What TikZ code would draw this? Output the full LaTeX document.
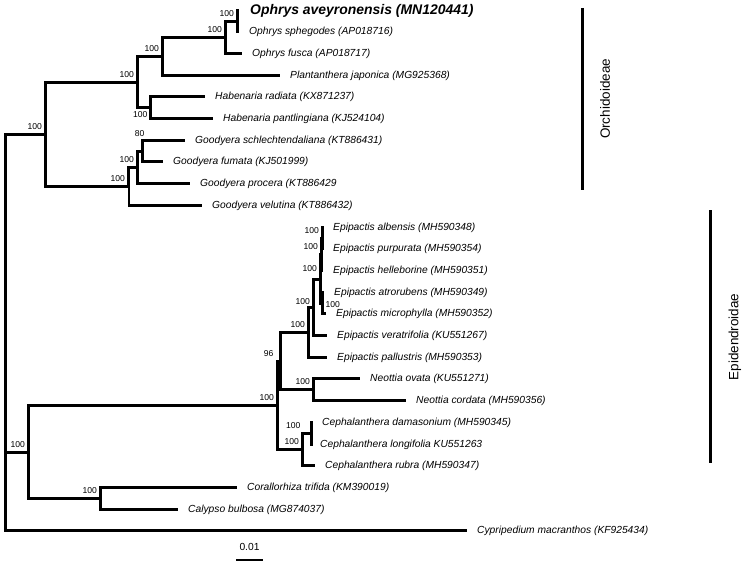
\documentclass[tikz,border=0pt]{standalone}
\usepackage{fontspec}
\setmainfont{Liberation Sans}
\usetikzlibrary{positioning}

\begin{document}
\begin{tikzpicture}[x=1bp,y=-1bp,node distance=10bp]
\tikzstyle{branchline}=[line width=3bp]
\tikzstyle{taxon}=[font=\fontsize{10.3}{12}\selectfont\itshape,inner sep=0pt]
\tikzstyle{focal}=[font=\fontsize{14}{16}\selectfont\bfseries\itshape,inner sep=0pt]
\tikzstyle{boot}=[font=\fontsize{8.6}{9}\selectfont,inner sep=0pt]
\tikzstyle{cladename}=[font=\fontsize{13.5}{15}\selectfont,rotate=90,inner sep=0pt]
\useasboundingbox (0,0) rectangle (745,563);

% branch tips
\coordinate (tAve) at (239,10.5);
\coordinate (tSph) at (239,31.5);
\coordinate (tFus) at (242,53.5);
\coordinate (tPla) at (280,75.5);
\coordinate (tHra) at (205,96.5);
\coordinate (tHpa) at (213,118.5);
\coordinate (tGsc) at (185,140.5);
\coordinate (tGfu) at (163,161.5);
\coordinate (tGpr) at (190,183.5);
\coordinate (tGve) at (202,205.5);
\coordinate (tEal) at (323,227.5);
\coordinate (tEpu) at (323,248.5);
\coordinate (tEhe) at (323,270.5);
\coordinate (tEat) at (324,292.5);
\coordinate (tEmi) at (326,313.5);
\coordinate (tEve) at (327,335.5);
\coordinate (tEpa) at (327,357.5);
\coordinate (tNov) at (360,378.5);
\coordinate (tNco) at (406,400.5);
\coordinate (tCda) at (312,422.5);
\coordinate (tClo) at (310,444.5);
\coordinate (tCru) at (315,465.5);
\coordinate (tCor) at (237,487.5);
\coordinate (tCal) at (178,509.5);
\coordinate (tCyp) at (467,530.5);

% inner nodes
\coordinate (nA) at (237.5,21.5);
\coordinate (nB) at (225.5,37.5);
\coordinate (nC) at (162.5,56.5);
\coordinate (nD) at (150.5,107.5);
\coordinate (nE) at (137.5,82.5);
\coordinate (nF) at (142.5,151.5);
\coordinate (nG) at (137.5,167.5);
\coordinate (nH) at (128.5,186.5);
\coordinate (nI) at (45.5,134.5);
\coordinate (nQa) at (322.5,238.5);
\coordinate (nQb) at (321.5,254.5);
\coordinate (nQc) at (322.5,303.5);
\coordinate (nQd) at (320.5,279.5);
\coordinate (nQe) at (313.5,307.5);
\coordinate (nP) at (308.5,332.5);
\coordinate (nN) at (313.5,389.5);
\coordinate (nM) at (280.5,361.5);
\coordinate (nCa) at (311.5,433.5);
\coordinate (nCb) at (302.5,449.5);
\coordinate (nK) at (277.5,405.5);
\coordinate (nCo) at (100.5,498.5);
\coordinate (nJ) at (28.5,452.5);
\coordinate (nR) at (5.5,452.5);

% taxa
\node[focal,right=11bp of tAve] (lAve) {Ophrys aveyronensis (MN120441)};
\node[taxon,right=of tSph] (lSph) {Ophrys sphegodes (AP018716)};
\node[taxon,right=of tFus] (lFus) {Ophrys fusca (AP018717)};
\node[taxon,right=of tPla] (lPla) {Plantanthera japonica (MG925368)};
\node[taxon,right=of tHra] (lHra) {Habenaria radiata (KX871237)};
\node[taxon,right=of tHpa] (lHpa) {Habenaria pantlingiana (KJ524104)};
\node[taxon,right=of tGsc] (lGsc) {Goodyera schlechtendaliana (KT886431)};
\node[taxon,right=of tGfu] (lGfu) {Goodyera fumata (KJ501999)};
\node[taxon,right=of tGpr] (lGpr) {Goodyera procera (KT886429};
\node[taxon,right=of tGve] (lGve) {Goodyera velutina (KT886432)};
\node[taxon,right=of tEal] (lEal) {Epipactis albensis (MH590348)};
\node[taxon,right=of tEpu] (lEpu) {Epipactis purpurata (MH590354)};
\node[taxon,right=of tEhe] (lEhe) {Epipactis helleborine (MH590351)};
\node[taxon,right=of tEat] (lEat) {Epipactis atrorubens (MH590349)};
\node[taxon,right=of tEmi] (lEmi) {Epipactis microphylla (MH590352)};
\node[taxon,right=of tEve] (lEve) {Epipactis veratrifolia (KU551267)};
\node[taxon,right=of tEpa] (lEpa) {Epipactis pallustris (MH590353)};
\node[taxon,right=of tNov] (lNov) {Neottia ovata (KU551271)};
\node[taxon,right=of tNco] (lNco) {Neottia cordata (MH590356)};
\node[taxon,right=of tCda] (lCda) {Cephalanthera damasonium (MH590345)};
\node[taxon,right=of tClo] (lClo) {Cephalanthera longifolia KU551263};
\node[taxon,right=of tCru] (lCru) {Cephalanthera rubra (MH590347)};
\node[taxon,right=of tCor] (lCor) {Corallorhiza trifida (KM390019)};
\node[taxon,right=of tCal] (lCal) {Calypso bulbosa (MG874037)};
\node[taxon,right=of tCyp] (lCyp) {Cypripedium macranthos (KF925434)};

% bootstrap values
\node[boot,above left=4.5bp and 3.5bp of nA] (bA) {100};
\node[boot,above left=4.5bp and 3.5bp of nB] (bB) {100};
\node[boot,above left=4.5bp and 3.5bp of nC] (bC) {100};
\node[boot,below left=3.5bp and 3bp of nD] (bD) {100};
\node[boot,above left=4.5bp and 3.5bp of nE] (bE) {100};
\node[boot,above left=15bp and -2bp of nF] (bF) {80};
\node[boot,above left=4.5bp and 3.5bp of nG] (bG) {100};
\node[boot,above left=4.5bp and 3.5bp of nH] (bH) {100};
\node[boot,above left=4.5bp and 3.5bp of nI] (bI) {100};
\node[boot,above left=4.5bp and 3.5bp of nQa] (bQa) {100};
\node[boot,above left=4.5bp and 3.5bp of nQb] (bQb) {100};
\node[boot,below right=-2.5bp and 3bp of nQc] (bQc) {100};
\node[boot,above left=8bp and 3.5bp of nQd] (bQd) {100};
\node[boot,above left=2.5bp and 3.5bp of nQe] (bQe) {100};
\node[boot,above left=4.5bp and 3.5bp of nP] (bP) {100};
\node[boot,above left=4.5bp and 3.5bp of nN] (bN) {100};
\node[boot,above left=4.5bp and 7bp of nM] (bM) {96};
\node[boot,above left=5bp and 11bp of nCa] (bCa) {100};
\node[boot,above left=4.5bp and 3.5bp of nCb] (bCb) {100};
\node[boot,above left=4.5bp and 3.5bp of nK] (bK) {100};
\node[boot,above left=4.5bp and 3.5bp of nCo] (bCo) {100};
\node[boot,above left=4.5bp and 3.5bp of nJ] (bJ) {100};

% Orchidoideae
\draw[branchline] (nA) |- (tAve);
\draw[branchline] (nA) |- (tSph);
\draw[branchline] (nB) |- (nA);
\draw[branchline] (nB) |- (tFus);
\draw[branchline] (nC) |- (nB);
\draw[branchline] (nC) |- (tPla);
\draw[branchline] (nD) |- (tHra);
\draw[branchline] (nD) |- (tHpa);
\draw[branchline] (nE) |- (nC);
\draw[branchline] (nE) |- (nD);
\draw[branchline] (nF) |- (tGsc);
\draw[branchline] (nF) |- (tGfu);
\draw[branchline] (nG) |- (nF);
\draw[branchline] (nG) |- (tGpr);
\draw[branchline] (nH) |- (nG);
\draw[branchline,line width=2bp] (nH) |- (tGve);
\draw[branchline] (nI) |- (nE);
\draw[branchline] (nI) |- (nH);
% Epidendroidae
\draw[branchline] (nQa) |- (tEal);
\draw[branchline] (nQa) |- (tEpu);
\draw[branchline] (nQb) |- (nQa);
\draw[branchline] (nQb) |- (tEhe);
\draw[branchline] (nQc) |- (tEat);
\draw[branchline] (nQc) |- (tEmi);
\draw[branchline] (nQd) |- (nQb);
\draw[branchline] (nQd) |- (nQc);
\draw[branchline] (nQe) |- (nQd);
\draw[branchline] (nQe) |- (tEve);
\draw[branchline] (nP) |- (nQe);
\draw[branchline] (nP) |- (tEpa);
\draw[branchline] (nN) |- (tNov);
\draw[branchline] (nN) |- (tNco);
\draw[branchline] (nM) |- (nP);
\draw[branchline] (nM) |- (nN);
\draw[branchline] (nCa) |- (tCda);
\draw[branchline] (nCa) |- (tClo);
\draw[branchline] (nCb) |- (nCa);
\draw[branchline] (nCb) |- (tCru);
\draw[branchline] (nK) |- (nM);
\draw[branchline] (nK) |- (nCb);
\draw[branchline] (nCo) |- (tCor);
\draw[branchline] (nCo) |- (tCal);
\draw[branchline] (nJ) |- (nK);
\draw[branchline] (nJ) |- (nCo);
% root
\draw[branchline] (nR) |- (nI);
\draw[branchline] (nR) -- (nJ);
\draw[branchline] (nR) |- (tCyp);

% clade bars
\coordinate (oTop) at (582.5,8);
\coordinate (oBot) at (582.5,190);
\coordinate (eTop) at (710.5,210);
\coordinate (eBot) at (710.5,463);
\draw[line width=3bp] (oTop) -- (oBot);
\draw[line width=3bp] (eTop) -- (eBot);
\node[cladename] (cOrc) at (605,99) {Orchidoideae};
\node[cladename] (cEpi) at (735,337) {Epidendroidae};

% scale
\coordinate (sL) at (236,560);
\coordinate (sR) at (263,560);
\coordinate (sM) at (249.5,560);
\draw[line width=2bp] (sL) -- (sR);
\node[taxon,font=\fontsize{10.3}{12}\selectfont,above=9bp of sM] (sT) {0.01};
\end{tikzpicture}
\end{document}
